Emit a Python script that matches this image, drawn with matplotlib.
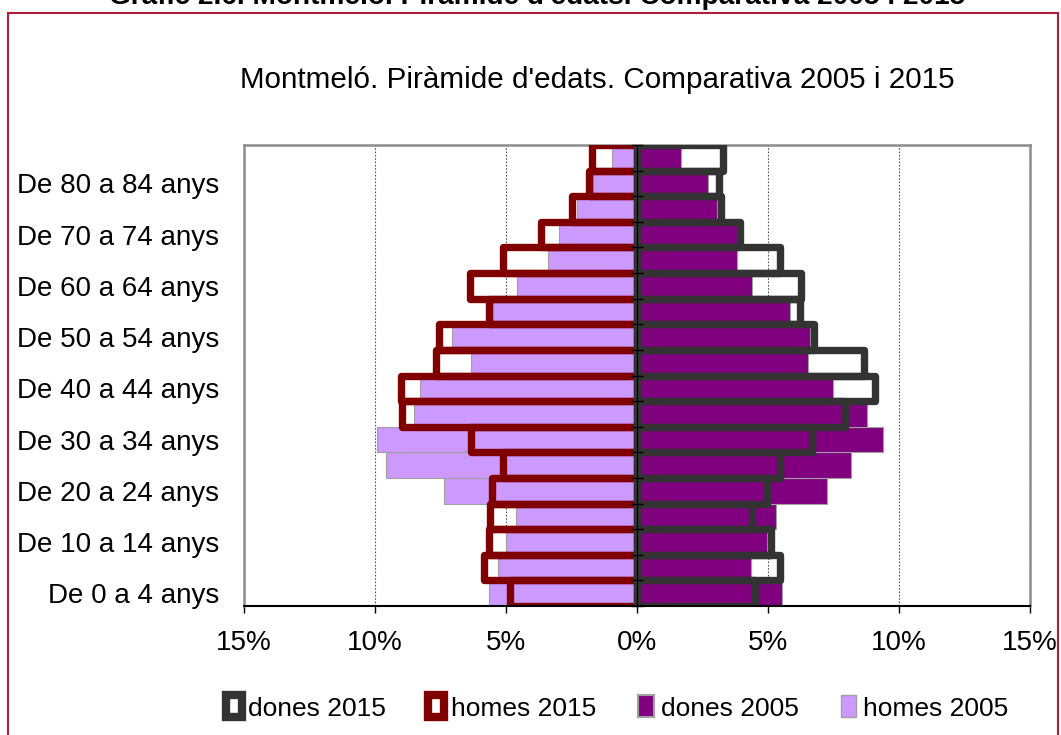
import matplotlib
matplotlib.use("Agg")
import matplotlib.pyplot as plt
from matplotlib.patches import Patch, Rectangle
from matplotlib.ticker import FuncFormatter
import numpy as np

plt.rcParams['font.family'] = ['Liberation Sans', 'DejaVu Sans']

age_groups = ["De 0 a 4 anys", "De 5 a 9 anys", "De 10 a 14 anys", "De 15 a 19 anys",
              "De 20 a 24 anys", "De 25 a 29 anys", "De 30 a 34 anys", "De 35 a 39 anys",
              "De 40 a 44 anys", "De 45 a 49 anys", "De 50 a 54 anys", "De 55 a 59 anys",
              "De 60 a 64 anys", "De 65 a 69 anys", "De 70 a 74 anys", "De 75 a 79 anys",
              "De 80 a 84 anys", "De 85 i més anys"]

homes_2005 = [5.64, 5.31, 4.99, 4.61, 7.35, 9.57, 9.92, 8.51, 8.28, 6.34,
              7.06, 5.50, 4.58, 3.40, 2.99, 2.30, 1.67, 0.95]
homes_2015 = [4.84, 5.84, 5.64, 5.61, 5.55, 5.13, 6.35, 8.96, 8.99, 7.66,
              7.56, 5.66, 6.36, 5.13, 3.65, 2.48, 1.82, 1.73]
dones_2005 = [5.55, 4.35, 4.97, 5.32, 7.26, 8.17, 9.40, 8.79, 7.47, 6.51,
              6.62, 5.84, 4.38, 3.82, 3.80, 3.07, 2.70, 1.69]
dones_2015 = [4.49, 5.45, 5.13, 4.40, 4.96, 5.46, 6.68, 7.95, 9.07, 8.66,
              6.76, 6.23, 6.27, 5.45, 3.94, 3.21, 3.12, 3.28]

x_ticks = [-15, -10, -5, 0, 5, 10, 15]

C_H05 = '#CC99FF'
C_D05 = '#800080'
C_H15 = '#800000'
C_D15 = '#333333'

fig = plt.figure(figsize=(10.61, 7.35), dpi=100)
ax = fig.add_axes([244/1061, 1-606/735, (1030-244)/1061, (606-145)/735])

y = np.arange(len(age_groups))
ax.barh(y, -np.array(homes_2005), height=1.0, color=C_H05, edgecolor='#A0A0A0', linewidth=0.8, zorder=2)
ax.barh(y, np.array(dones_2005), height=1.0, color=C_D05, edgecolor='#A0A0A0', linewidth=0.8, zorder=2)
ax.barh(y, -np.array(homes_2015), height=1.0, fill=False, edgecolor=C_H15, linewidth=5.3,
        joinstyle='round', zorder=3)
ax.barh(y, np.array(dones_2015), height=1.0, fill=False, edgecolor=C_D15, linewidth=5.3,
        joinstyle='round', zorder=4)

ax.set_xlim(-15, 15)
ax.set_ylim(-0.5, len(age_groups) - 0.5)
ax.set_xticks(x_ticks)
ax.xaxis.set_major_formatter(FuncFormatter(lambda v, p: f"{abs(v):.0f}%"))
ax.tick_params(axis='x', direction='out', length=5, width=1, labelsize=20, pad=12, color='black')
ax.set_yticks(y[::2])
ax.set_yticklabels(age_groups[::2])
ax.tick_params(axis='y', length=0, labelsize=20, pad=18)

ax.grid(axis='x', color='#555555', linestyle=(0, (1.5, 1.5)), linewidth=0.8, zorder=0)
ax.grid(axis='y', visible=False)
ax.set_axisbelow(True)

for s in ['top', 'left', 'right']:
    ax.spines[s].set_color('#8C8C8C')
    ax.spines[s].set_linewidth(1.8)
ax.spines['bottom'].set_color('black')
ax.spines['bottom'].set_linewidth(1.5)
ax.spines['bottom'].set_zorder(6)

# central vertical axis with ticks at category boundaries
sec = ax.secondary_yaxis(0.5)
sec.set_yticks(np.arange(-0.5, len(age_groups), 1.0))
sec.tick_params(axis='y', direction='inout', length=9, width=1, labelleft=False, labelright=False,
                color='black')
sec.spines['left'].set_linewidth(1.8)
sec.spines['left'].set_color('black')
sec.set_zorder(6)

fig.text(597/1061, 1-80/735, "Montmeló. Piràmide d'edats. Comparativa 2005 i 2015",
         ha='center', va='center', fontsize=21.3)
fig.text(537/1061, 1-4/735, "Gràfic 2.6. Montmeló. Piràmide d'edats. Comparativa 2005 i 2015",
         ha='center', va='baseline', fontsize=20.2, fontweight='bold')

fig.patches.append(Rectangle((8/1061, -0.1), (1058-8)/1061, 1.1 - 13/735,
                             transform=fig.transFigure, fill=False,
                             edgecolor='#B01E3C', linewidth=1.5))

handles = [Patch(facecolor='white', edgecolor=C_D15, linewidth=6, joinstyle='round'),
           Patch(facecolor='white', edgecolor=C_H15, linewidth=6, joinstyle='round'),
           Patch(facecolor=C_D05, edgecolor='#A0A0A0', linewidth=1.5),
           Patch(facecolor=C_H05, edgecolor='#A0A0A0', linewidth=1)]
labels = ['dones 2015', 'homes 2015', 'dones 2005', 'homes 2005']
fig.legend(handles, labels, loc='center', bbox_to_anchor=(617/1061, 1-708/735), ncol=4,
           frameon=False, fontsize=19, handlelength=0.6, handleheight=0.9,
           handletextpad=0.25, columnspacing=1.6)

fig.savefig('out.png', dpi=100)
